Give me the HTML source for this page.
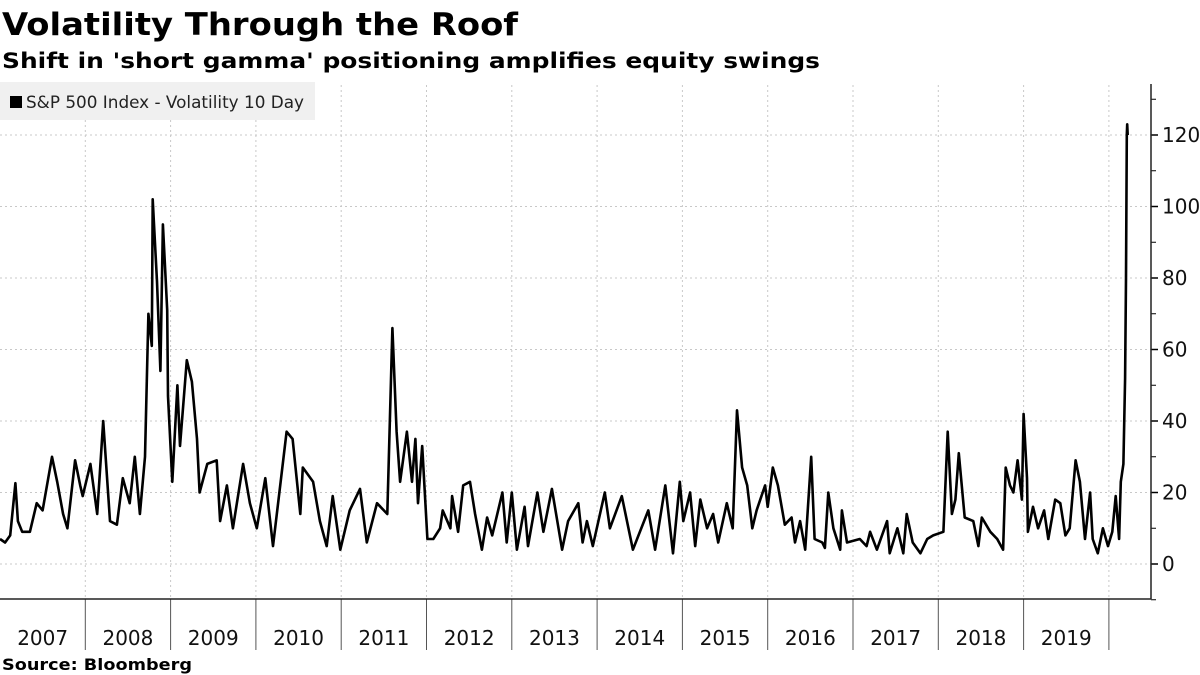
<!DOCTYPE html>
<html><head><meta charset="utf-8"><style>
html,body{margin:0;padding:0;background:#fff;}
svg{display:block;font-family:"DejaVu Sans","Liberation Sans",sans-serif;}
</style></head><body>
<svg id="chart" width="1200" height="675" viewBox="0 0 1200 675" xmlns="http://www.w3.org/2000/svg">
<text x="2" y="35" font-size="31" font-weight="bold" textLength="516" lengthAdjust="spacingAndGlyphs">Volatility Through the Roof</text>
<text x="2" y="68" font-size="21" font-weight="bold" textLength="818" lengthAdjust="spacingAndGlyphs">Shift in 'short gamma' positioning amplifies equity swings</text>
<g id="grid"></g>
<g id="axes"></g>
<g>
<rect x="0" y="82" width="315" height="38" fill="#f0f0f0"/>
<rect x="10" y="96" width="12" height="12" fill="#000"/>
<text x="26" y="108" font-size="17" fill="#222" textLength="278" lengthAdjust="spacingAndGlyphs">S&amp;P 500 Index - Volatility 10 Day</text>
</g>
<path id="line" fill="none" stroke="#000" stroke-width="2.6" stroke-linejoin="round"/>
<text x="2" y="670" font-size="16" font-weight="bold" textLength="190" lengthAdjust="spacingAndGlyphs">Source: Bloomberg</text>
</svg>
<script>
const dates = [2007.00,2007.06,2007.12,2007.18,2007.21,2007.26,2007.35,2007.43,2007.50,2007.61,2007.67,2007.74,2007.79,2007.88,2007.94,2007.97,
2008.06,2008.14,2008.21,2008.29,2008.37,2008.44,2008.52,2008.58,2008.64,2008.70,2008.74,2008.78,2008.79,2008.84,2008.88,2008.91,2008.96,2008.97,
2009.02,2009.08,2009.11,2009.19,2009.25,2009.31,2009.34,2009.43,2009.54,2009.58,2009.66,2009.73,2009.85,2009.93,
2010.01,2010.11,2010.20,2010.36,2010.43,2010.52,2010.55,2010.67,2010.75,2010.83,2010.90,2010.99,
2011.10,2011.22,2011.30,2011.42,2011.54,2011.60,2011.65,2011.69,2011.77,2011.83,2011.87,2011.90,2011.95,
2012.01,2012.08,2012.16,2012.19,2012.28,2012.30,2012.37,2012.43,2012.51,2012.57,2012.65,2012.71,2012.77,2012.89,2012.94,
2013.00,2013.06,2013.15,2013.19,2013.30,2013.37,2013.47,2013.59,2013.66,2013.78,2013.83,2013.88,2013.95,
2014.09,2014.15,2014.29,2014.42,2014.60,2014.68,2014.80,2014.89,2014.97,
2015.01,2015.09,2015.15,2015.21,2015.29,2015.36,2015.42,2015.52,2015.59,2015.64,2015.70,2015.76,2015.82,2015.87,2015.97,
2016.00,2016.06,2016.12,2016.20,2016.28,2016.32,2016.38,2016.44,2016.51,2016.55,2016.64,2016.67,2016.71,2016.77,2016.85,2016.87,2016.93,
2017.08,2017.16,2017.20,2017.28,2017.40,2017.43,2017.52,2017.59,2017.63,2017.70,2017.79,2017.87,2017.94,
2018.06,2018.11,2018.16,2018.20,2018.24,2018.31,2018.41,2018.47,2018.51,2018.61,2018.69,2018.76,2018.79,2018.84,2018.88,2018.93,2018.98,
2019.00,2019.04,2019.05,2019.11,2019.17,2019.24,2019.29,2019.37,2019.43,2019.49,2019.54,2019.61,2019.66,2019.72,2019.78,2019.81,2019.87,2019.93,2019.99,
2020.04,2020.08,2020.12,2020.14,2020.17,2020.19,2020.20,2020.21,2020.215,2020.22];
const vols = [7,6,8,22.6,12,9,9,17,15,30,23,14,10,29,22,19,
28,14,40,12,11,24,17,30,14,30,70,61,102,79,54,95,71,47,
23,50,33,57,51,35,20,28,29,12,22,10,28,17,
10,24,5,37,35,14,27,23,12,5,19,4,
15,21,6,17,14,66,37,23,37,23,35,17,33,
7,7,10,15,10,19,9,22,23,14,4,13,8,20,6,
20,4,16,5,20,9,21,4,12,17,6,12,5,
20,10,19,4,15,4,22,3,23,
12,20,5,18,10,14,6,17,10,43,27,22,10,15,22,
16,27,22,11,13,6,12,4,30,7,6,4.5,20,10,4,15,6,
7,5,9,4,12,3,10,3,14,6,3,7,8,
9,37,14,18,31,13,12,5,13,9,7,4,27,22,20,29,18,
42,24,9,16,10,15,7,18,17,8,10,29,23,7,20,7,3,10,5,
9,19,7,23,28,52,80,120,123,120];
const yTicks = [0,20,40,60,80,100,120];
const yearLabels = ["2007","2008","2009","2010","2011","2012","2013","2014","2015","2016","2017","2018","2019"];

const NS="http://www.w3.org/2000/svg";
const X0=0, PX_PER_YEAR=85.3, Y0=564, PX_PER_UNIT=3.575;
const xScale = d => X0 + (d-2007)*PX_PER_YEAR;
const yScale = v => Y0 - v*PX_PER_UNIT;
const grid=document.getElementById('grid'), axes=document.getElementById('axes');
function mk(tag, attrs, parent){const e=document.createElementNS(NS,tag);for(const k in attrs)e.setAttribute(k,attrs[k]);parent.appendChild(e);return e;}

yTicks.forEach(t=>{
  const y=yScale(t);
  const g=mk('line',{x1:0,x2:1151,y1:y,y2:y,stroke:'#c8c8c8','stroke-width':1,'stroke-dasharray':'2,3'},grid);
  
  
  const tk=mk('line',{x1:1151,x2:1158,y1:y,y2:y,stroke:'#000','stroke-width':1.5},axes);
  
  
  const lb=mk('text',{x:1162,y:y+7,'font-size':20,fill:'#111'},axes);
  lb.textContent=t;
  
  
});
for(let t=-10;t<=130;t+=20){
  const y=yScale(t);
  const m=mk('line',{x1:1151,x2:1156,y1:y,y2:y,stroke:'#000','stroke-width':1},axes);
  
  
}
yearLabels.forEach((lab,i)=>{
  const yr=2007+i;
  const xs=xScale(yr), xe=xScale(yr+1);
  if(i>0){
    const g=mk('line',{x1:xs,x2:xs,y1:85,y2:599,stroke:'#c8c8c8','stroke-width':1,'stroke-dasharray':'2,3'},grid);
    
    
    const s=mk('line',{x1:xs,x2:xs,y1:599,y2:650,stroke:'#555','stroke-width':1},axes);
    
    
  }
  const lb=mk('text',{x:(xs+xe)/2,y:645,'font-size':20,'text-anchor':'middle',fill:'#111'},axes);
  lb.textContent=lab;
  
  
});
const endX=xScale(2020);
const g2=mk('line',{x1:endX,x2:endX,y1:85,y2:599,stroke:'#c8c8c8','stroke-width':1,'stroke-dasharray':'2,3'},grid);


const s2=mk('line',{x1:endX,x2:endX,y1:599,y2:650,stroke:'#555','stroke-width':1},axes);


const ya=mk('line',{x1:1151,x2:1151,y1:84,y2:599,stroke:'#222','stroke-width':1.5},axes);


const xa=mk('line',{x1:0,x2:1151,y1:599,y2:599,stroke:'#222','stroke-width':1.5},axes);



let d='';
dates.forEach((dt,i)=>{d+=(i?'L':'M')+xScale(dt).toFixed(1)+','+yScale(vols[i]).toFixed(1);});
document.getElementById('line').setAttribute('d',d);
</script>
</body></html>
